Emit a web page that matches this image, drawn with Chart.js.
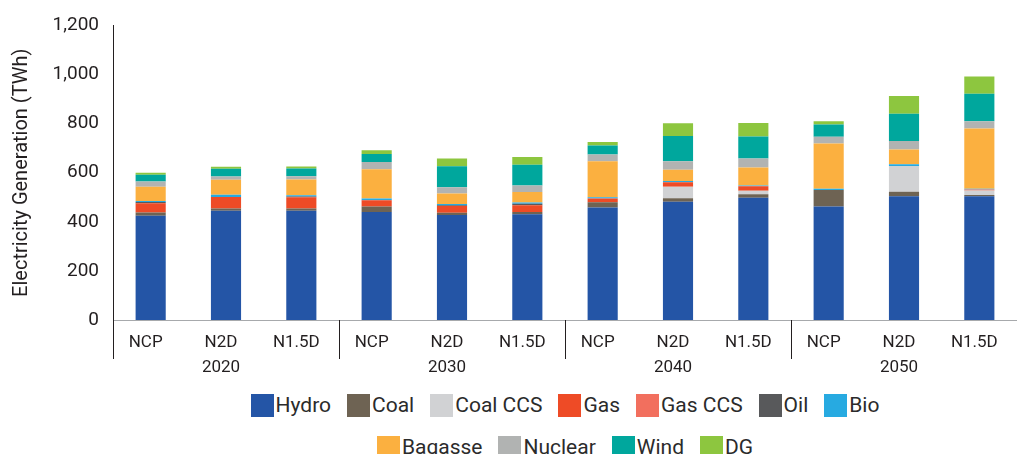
<!DOCTYPE html>
<html>
<head>
<meta charset="utf-8">
<script src="https://cdn.jsdelivr.net/npm/chart.js@4.4.1/dist/chart.umd.min.js"></script>
<style>
  html, body { margin: 0; padding: 0; background: #fff; overflow: hidden; }
  #wrap { width: 1017px; height: 384px; position: relative; }
  #legend { width: 904px; padding-left: 113px; display: flex; flex-wrap: wrap; justify-content: center; font-family: Roboto, sans-serif; font-size: 21px; color: #2b2b2b; }
  .item { display: flex; align-items: center; height: 42px; margin: 0 8px; }
  .box { width: 23px; height: 23px; margin-right: 2px; }
  .brk { flex-basis: 100%; height: 0; }
</style>
</head>
<body>
<div id="wrap"><canvas id="genChart"></canvas></div>
<div id="legend"></div>
<script>
const years = ['2020', '2030', '2040', '2050'];
const scenarios = ['NCP', 'N2D', 'N1.5D'];

const hydro   = [425, 445, 445, 440, 428, 431, 458, 482, 498, 462, 504, 504];
const coal    = [13, 9, 9, 22, 9, 9, 22, 14, 14, 68, 18, 5];
const coalCcs = [0, 0, 0, 0, 0, 0, 0, 47, 14, 0, 105, 19];
const gas     = [38, 47, 46, 26, 27, 27, 15, 18, 19, 0, 0, 2];
const gasCcs  = [0, 0, 0, 0, 0, 0, 0, 0, 0, 0, 0, 2];
const oil     = [5, 0, 3, 0, 3, 7, 0, 0, 0, 0, 0, 0];
const bio     = [4, 9, 5, 7, 5, 5, 5, 5, 3, 5, 7, 3];
const bagasse = [58, 61, 64, 119, 43, 42, 147, 46, 73, 184, 61, 245];
const nuclear = [21, 14, 14, 30, 26, 27, 27, 35, 37, 27, 34, 30];
const wind    = [28, 31, 31, 32, 85, 84, 37, 103, 89, 50, 111, 112];
const dg      = [8, 8, 8, 15, 32, 32, 14, 51, 55, 14, 72, 70];

const series = [
    ['Hydro', hydro, '#2455a6'],
    ['Coal', coal, '#6e6353'],
    ['Coal CCS', coalCcs, '#d1d2d4'],
    ['Gas', gas, '#ee4b26'],
    ['Gas CCS', gasCcs, '#f26f5e'],
    ['Oil', oil, '#58595b'],
    ['Bio', bio, '#27aae1'],
    ['Bagasse', bagasse, '#fbb040'],
    ['Nuclear', nuclear, '#b1b3b2'],
    ['Wind', wind, '#00a79d'],
    ['DG', dg, '#8dc63f']
];

const labels = [];
years.forEach(function () { scenarios.forEach(function (s) { labels.push(s); }); });

const font = { family: 'Roboto, sans-serif', size: 17 };

// separators and year labels under the scenario ticks
const groupPlugin = {
    id: 'groups',
    afterDraw(chart) {
        const ctx = chart.ctx, x = chart.scales.x, area = chart.chartArea;
        const n = scenarios.length;
        const half = (x.getPixelForValue(1) - x.getPixelForValue(0)) / 2;
        ctx.save();
        ctx.strokeStyle = '#231f20';
        ctx.lineWidth = 1;
        ctx.fillStyle = '#231f20';
        ctx.font = '17px Roboto, sans-serif';
        ctx.textAlign = 'center';
        ctx.textBaseline = 'middle';
        years.forEach(function (yr, g) {
            const first = x.getPixelForValue(g * n);
            const last = x.getPixelForValue(g * n + n - 1);
            const left = Math.round(first - half) + 0.5;
            ctx.beginPath();
            ctx.moveTo(left, area.bottom);
            ctx.lineTo(left, area.bottom + 39);
            ctx.stroke();
            ctx.fillText(yr, (first + last) / 2 - 5, area.bottom + 48);
        });
        ctx.restore();
    }
};

new Chart(document.getElementById('genChart'), {
    type: 'bar',
    data: {
        labels: labels,
        datasets: series.map(function (s) {
            return { label: s[0], data: s[1], backgroundColor: s[2], borderWidth: 0 };
        })
    },
    options: {
        responsive: true,
        maintainAspectRatio: false,
        animation: false,
        datasets: { bar: { barPercentage: 0.4, categoryPercentage: 1 } },
        layout: { padding: { top: 14, right: 0, left: 0, bottom: 0 } },
        plugins: { legend: { display: false }, tooltip: { enabled: false } },
        scales: {
            x: {
                stacked: true,
                grid: { display: false, drawTicks: false },
                border: { color: '#a7a9ac' },
                ticks: { color: '#231f20', font: font, padding: 13, maxRotation: 0, labelOffset: -5 },
                afterFit: function (s) { s.height = 64; }
            },
            y: {
                stacked: true,
                min: 0,
                max: 1200,
                grid: { display: false, drawTicks: false },
                border: { color: '#231f20' },
                ticks: { stepSize: 200, color: '#231f20', font: { family: 'Roboto, sans-serif', size: 19 }, padding: 14 },
                title: { display: true, text: 'Electricity Generation (TWh)', color: '#231f20', font: { family: 'Roboto, sans-serif', size: 20 }, padding: { top: 10, bottom: 0 } },
                afterFit: function (s) { s.width = 113; }
            }
        }
    },
    plugins: [groupPlugin]
});

const legend = document.getElementById('legend');
series.forEach(function (s, i) {
    const item = document.createElement('div');
    item.className = 'item';
    item.innerHTML = '<span class="box" style="background:' + s[2] + '"></span>' + s[0];
    legend.appendChild(item);
    if (i === 6) {
        const brk = document.createElement('div');
        brk.className = 'brk';
        legend.appendChild(brk);
    }
});
</script>
</body>
</html>
